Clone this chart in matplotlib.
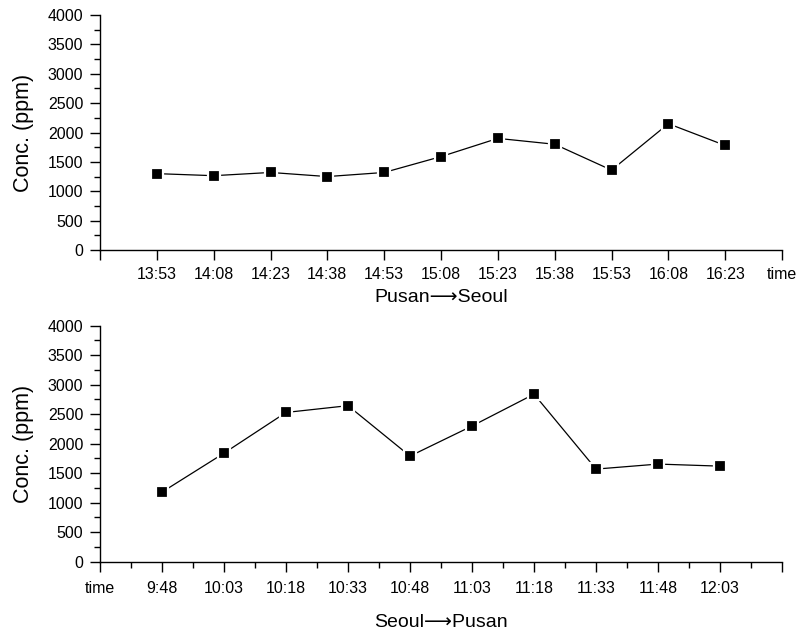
import matplotlib.pyplot as plt
from matplotlib.ticker import MultipleLocator

plt.rcParams['font.family'] = ['Liberation Sans', 'DejaVu Sans']

# Pusan -> Seoul
times_ps = ["13:53", "14:08", "14:23", "14:38", "14:53", "15:08",
            "15:23", "15:38", "15:53", "16:08", "16:23"]
conc_ps = [1300, 1265, 1320, 1250, 1320, 1590, 1900, 1800, 1360, 2150, 1780]

# Seoul -> Pusan
times_sp = ["9:48", "10:03", "10:18", "10:33", "10:48",
            "11:03", "11:18", "11:33", "11:48", "12:03"]
conc_sp = [1180, 1840, 2530, 2645, 1790, 2300, 2840, 1570, 1655, 1620]

fig = plt.figure(figsize=(8.02, 6.31), dpi=100)
ax1 = fig.add_axes([0.1247, 0.6038, 0.8504, 0.3724])
ax2 = fig.add_axes([0.1247, 0.1098, 0.8504, 0.3740])


def style(ax):
    for s in ['top', 'right']:
        ax.spines[s].set_visible(False)
    for s in ['left', 'bottom']:
        ax.spines[s].set_linewidth(1.0)
    ax.set_ylim(0, 4000)
    ax.yaxis.set_major_locator(MultipleLocator(500))
    ax.yaxis.set_minor_locator(MultipleLocator(250))
    ax.tick_params(axis='both', which='major', direction='out', length=7,
                   width=1, labelsize=11.5, pad=5)
    ax.tick_params(axis='both', which='minor', direction='out', length=4, width=1)
    ax.set_ylabel("Conc. (ppm)", fontsize=15.5)
    ax.yaxis.set_label_coords(-0.097, 0.5)


def draw(ax, vals):
    xs = list(range(len(vals)))
    ax.plot(xs, vals, color='black', linewidth=0.9, marker='s', markersize=9,
            markerfacecolor='black', markeredgecolor='white', markeredgewidth=1.6)


# top panel
style(ax1)
draw(ax1, conc_ps)
n1 = len(times_ps)
ax1.set_xlim(-1, n1)
ax1.set_xticks(range(-1, n1 + 1))
ax1.set_xticklabels([""] + times_ps + ["time"])
ax1.set_xlabel("Pusan\u27f6Seoul", fontsize=14, labelpad=5)

# bottom panel
style(ax2)
ax2.tick_params(axis='x', which='major', pad=7)
draw(ax2, conc_sp)
n2 = len(times_sp)
ax2.set_xlim(-1, n2)
ax2.set_xticks(range(-1, n2 + 1))
ax2.set_xticklabels(["time"] + times_sp + [""])
ax2.xaxis.set_minor_locator(MultipleLocator(0.5))
ax2.set_xlabel("Seoul\u27f6Pusan", fontsize=14, labelpad=13)

fig.savefig("out.png", dpi=100)
